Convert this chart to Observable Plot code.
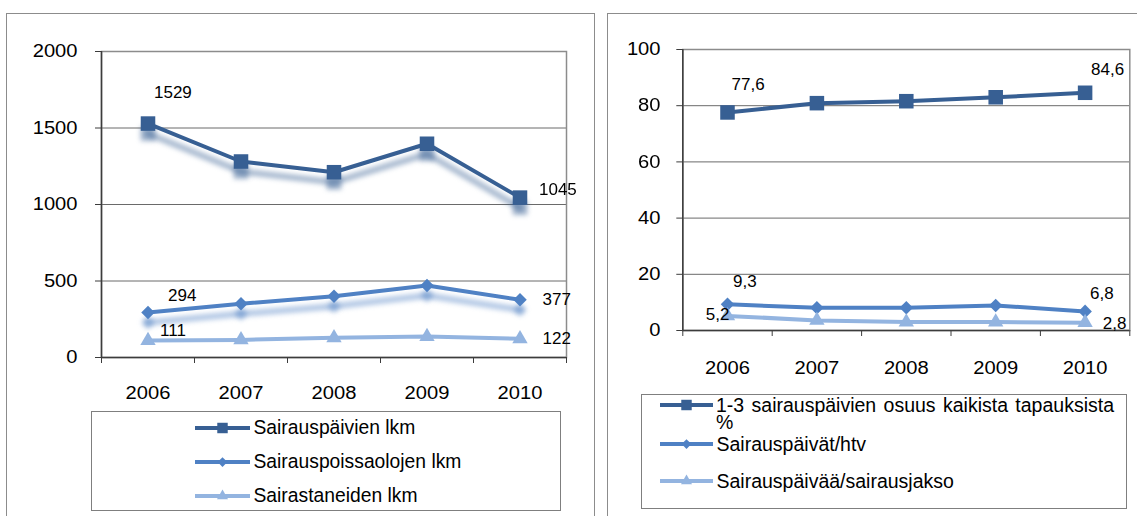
<!DOCTYPE html>
<html><head><meta charset="utf-8">
<script src="https://cdn.jsdelivr.net/npm/d3@7"></script>
<script src="https://cdn.jsdelivr.net/npm/@observablehq/plot@0.6"></script>
<style>
body{margin:0;background:#fff;overflow:hidden;font-family:"Liberation Sans",Arial,sans-serif}
#root{position:relative;width:1137px;height:516px;overflow:hidden;background:#fff}
.panel{position:absolute;border:1.5px solid #8c8c8c;box-sizing:border-box}
.legend{position:absolute;border:1px solid #7f7f7f;box-sizing:border-box;background:#fff}
.item{position:absolute;height:24px;display:flex;align-items:center;font-size:19.3px;color:#000;white-space:nowrap}
</style></head><body><div id="root"></div>
<script>
// ---- data ----
const years = [2006, 2007, 2008, 2009, 2010];

const leftNames = ["Sairauspäivien lkm", "Sairauspoissaolojen lkm", "Sairastaneiden lkm"];
const sairauspaivienLkm = [1529, 1281, 1211, 1397, 1045];
const sairauspoissaolojenLkm = [294, 351, 401, 471, 377];
const sairastaneidenLkm = [111, 115, 129, 137, 122];
const leftTicks = [0, 500, 1000, 1500, 2000];

const rightNames = ["1-3 sairauspäivien osuus kaikista tapauksista %", "Sairauspäivät/htv", "Sairauspäivää/sairausjakso"];
const osuusProsentti = [77.6, 80.9, 81.6, 83.0, 84.6];
const sairauspaivatHtv = [9.3, 8.1, 8.1, 8.9, 6.8];
const paivaaPerJakso = [5.2, 3.6, 3.0, 3.0, 2.8];
const rightTicks = [0, 20, 40, 60, 80, 100];

// ---- styles ----
const colors = ["#375f93", "#4f81c4", "#93b4e0"];
const symbols = ["square", "diamond2", "triangle"];
const d3symbols = [d3.symbolSquare, d3.symbolDiamond2, d3.symbolTriangle];
const radii = [8.2, 6.1, 5.7];

const root = document.getElementById("root");

function addDiv(cls, x, y, w, h, parent = root) {
  const d = document.createElement("div");
  d.className = cls;
  Object.assign(d.style, {left: x + "px", top: y + "px", width: w + "px", height: h + "px"});
  parent.appendChild(d);
  return d;
}

addDiv("panel", 6, 13, 589, 600);
addDiv("panel", 607, 13, 600, 600);

function drawChart(cfg) {
  const edges = years.map(y => y - 0.5).concat([years[years.length - 1] + 0.5]);
  const marks = [
    Plot.ruleY(cfg.yTicks.slice(1, -1), {stroke: "#6a6a6a", strokeWidth: 1}),
    Plot.frame({stroke: "#8c8c8c", strokeWidth: 1.5}),
    Plot.ruleY([cfg.yTicks[0]], {stroke: "#3c3c3c", strokeWidth: 1.5}),
    Plot.ruleX([edges[0]], {stroke: "#3c3c3c", strokeWidth: 1.5}),
    Plot.axisY({ticks: cfg.yTicks, tickSize: 6, tickPadding: cfg.yPad, fontSize: 17.5, tickFormat: d => String(d), stroke: "#3c3c3c", fill: "#000", label: null}),
    Plot.axisX({ticks: edges, tickSize: 6, tickFormat: () => "", stroke: "#3c3c3c", label: null}),
    Plot.axisX({ticks: years, tickSize: 0, tickPadding: cfg.xPad, fontSize: 17.5, tickFormat: d => String(d), fill: "#000", label: null})
  ];
  const rowsOf = s => years.map((yr, j) => ({year: yr, value: s[j]}));
  cfg.series.forEach((s, i) => {
    if (cfg.shadow[i]) {
      const rows = rowsOf(s);
      marks.push(Plot.line(rows, {x: "year", y: "value", dy: 10, stroke: colors[i], strokeWidth: 6, strokeOpacity: 0.45, imageFilter: "blur(2.5px)"}));
      marks.push(Plot.dot(rows, {x: "year", y: "value", dy: 10, symbol: symbols[i], r: radii[i], fill: colors[i], fillOpacity: 0.5, imageFilter: "blur(2.5px)"}));
    }
  });
  cfg.series.forEach((s, i) => {
    const rows = rowsOf(s);
    marks.push(Plot.line(rows, {x: "year", y: "value", stroke: colors[i], strokeWidth: 4}));
    marks.push(Plot.dot(rows, {x: "year", y: "value", symbol: symbols[i], r: radii[i], fill: colors[i]}));
  });
  cfg.labels.forEach(l => {
    const s = cfg.series[l.s];
    marks.push(Plot.text([{year: years[l.i], value: s[l.i]}], {
      x: "year", y: "value", text: d => cfg.fmt(d.value), dx: l.dx, dy: l.dy,
      textAnchor: "start", fontSize: 17, fill: "#000"
    }));
  });
  const svg = Plot.plot({
    width: cfg.width, height: cfg.height,
    marginLeft: cfg.m[0], marginTop: cfg.m[1], marginRight: cfg.m[2], marginBottom: cfg.m[3],
    x: {type: "linear", domain: [edges[0], edges[edges.length - 1]]},
    y: {type: "linear", domain: [cfg.yTicks[0], cfg.yTicks[cfg.yTicks.length - 1]]},
    style: {fontFamily: "Liberation Sans, Arial, sans-serif", background: "transparent", overflow: "visible"},
    marks
  });
  Object.assign(svg.style, {position: "absolute", left: cfg.left + "px", top: cfg.top + "px"});
  root.appendChild(svg);
  // the reference's axis lettering is horizontally wide: stretch tick labels
  svg.querySelectorAll('g[aria-label*="tick label"] text').forEach(t => {
    const L = t.getComputedTextLength();
    if (L > 0) {
      t.setAttribute("textLength", (L * 1.15).toFixed(1));
      t.setAttribute("lengthAdjust", "spacingAndGlyphs");
    }
  });
}

drawChart({
  left: 0, top: 0, width: 594, height: 410, m: [101, 51, 28, 53],
  yTicks: leftTicks, yPad: 18, xPad: 28.6,
  series: [sairauspaivienLkm, sairauspoissaolojenLkm, sairastaneidenLkm],
  shadow: [true, true, false],
  fmt: d => String(d),
  labels: [
    {s: 0, i: 0, dx: 6, dy: -31}, {s: 0, i: 4, dx: 19, dy: -8},
    {s: 1, i: 0, dx: 20, dy: -17}, {s: 1, i: 4, dx: 22.6, dy: 0},
    {s: 2, i: 0, dx: 12, dy: -10}, {s: 2, i: 4, dx: 22.6, dy: 0}
  ]
});

drawChart({
  left: 600, top: 0, width: 537, height: 400, m: [82.3, 49, 7.7, 70],
  yTicks: rightTicks, yPad: 16.3, xPad: 30.6,
  series: [osuusProsentti, sairauspaivatHtv, paivaaPerJakso],
  shadow: [false, false, false],
  fmt: d => d.toFixed(1).replace(".", ","),
  labels: [
    {s: 0, i: 0, dx: 4, dy: -28}, {s: 0, i: 4, dx: 6, dy: -23},
    {s: 1, i: 0, dx: 5.6, dy: -23}, {s: 1, i: 4, dx: 5, dy: -17.6},
    {s: 2, i: 0, dx: -21.7, dy: -1}, {s: 2, i: 4, dx: 17.7, dy: 0.5}
  ]
});

function sample(i, w) {
  const ns = "http://www.w3.org/2000/svg";
  const svg = document.createElementNS(ns, "svg");
  svg.setAttribute("width", w); svg.setAttribute("height", 20);
  svg.style.marginRight = "3.5px";
  svg.style.flex = "none";
  const line = document.createElementNS(ns, "line");
  line.setAttribute("x1", 0); line.setAttribute("x2", w);
  line.setAttribute("y1", 10); line.setAttribute("y2", 10);
  line.setAttribute("stroke", colors[i]); line.setAttribute("stroke-width", 4);
  line.setAttribute("stroke-linecap", "round");
  svg.appendChild(line);
  const r = radii[i] * 0.72;
  const p = document.createElementNS(ns, "path");
  p.setAttribute("d", d3.symbol(d3symbols[i], r * r * Math.PI)());
  p.setAttribute("transform", `translate(${w / 2},10)`);
  p.setAttribute("fill", colors[i]);
  svg.appendChild(p);
  return svg;
}

// left legend (inner origin 92, 412)
const lb = addDiv("legend", 91, 411, 470, 100);
[4.3, 38.3, 71.7].forEach((top, i) => {
  const it = addDiv("item", 103, top, 360, 24, lb);
  it.appendChild(sample(i, 55));
  it.appendChild(document.createTextNode(leftNames[i]));
});

// right legend (inner origin 642, 395)
const rb = addDiv("legend", 641, 394, 486, 115);
{
  const it = addDiv("item", 18, -2, 60, 24, rb);
  it.appendChild(sample(0, 53));
  const t = document.createElement("div");
  Object.assign(t.style, {position: "absolute", left: "74px", top: "1.5px", width: "398px", fontSize: "19.5px", lineHeight: "17px", textAlign: "justify", whiteSpace: "normal"});
  t.textContent = rightNames[0];
  rb.appendChild(t);
}
[37, 74].forEach((top, k) => {
  const i = k + 1;
  const it = addDiv("item", 18, top, 420, 24, rb);
  it.style.fontSize = "19.5px";
  it.appendChild(sample(i, 53));
  it.appendChild(document.createTextNode(rightNames[i]));
});
</script></body></html>
